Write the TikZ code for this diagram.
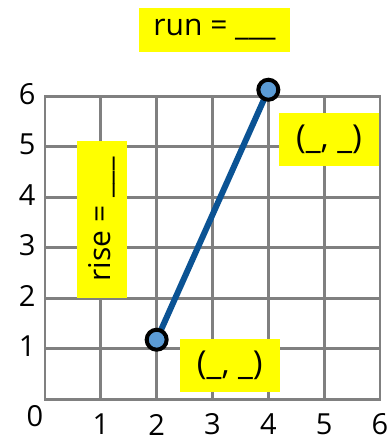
\documentclass[tikz,border=0pt]{standalone}
\usepackage{fontspec}
\setmainfont{Open Sans}
\usetikzlibrary{positioning}
\definecolor{gridgray}{HTML}{808080}
\definecolor{slopeblue}{HTML}{0B5394}
\definecolor{dotblue}{HTML}{5B9BD5}
\definecolor{notebg}{HTML}{FFFF00}
\tikzset{
  gridline/.style={draw=gridgray, line width=2.8pt},
  slopeline/.style={draw=slopeblue, line width=6pt},
  dotbadge/.style={
    circle, draw=black, fill=dotblue, line width=4pt,
    inner sep=0pt, minimum size=20pt
  },
  yellowcard/.style={
    fill=notebg, inner sep=0pt,
    font=\fontsize{30}{34}\selectfont
  },
  ticklabel/.style={inner sep=0pt, font=\fontsize{29}{33}\selectfont}
}

\begin{document}
\begin{tikzpicture}[x=55.83pt, y=50.5pt]
  \useasboundingbox (-0.806,-0.865) rectangle (6.162,7.907);
  \draw[gridline] (0,0) rectangle (6,6);
  \foreach \i in {1,...,5} {
    \draw[gridline] (\i,0) -- (\i,6);
    \draw[gridline] (0,\i) -- (6,\i);
  }
  \foreach \n in {1,...,6} {
    \node[ticklabel] (ylab\n) at (-0.32,\n+0.05) {\n};
    \node[ticklabel] (xlab\n) at (\n,-0.5) {\n};
  }
  \node[ticklabel] (zerolab) at (-0.18,-0.33) {0};
  \node[yellowcard,minimum width=151pt,minimum height=44pt] (runcard) at (3.036,7.32) {run = \_\_\_};
  \node[yellowcard,rotate=90,minimum width=157pt,minimum height=50pt] (risecard) at (1.021,3.563) {rise = \_\_\_};
  \node[yellowcard,minimum width=100pt,minimum height=53pt,font=\fontsize{33}{36}\selectfont] (highcard) at (5.087,5.15) {(\_, \_)};
  \node[yellowcard,minimum width=100pt,minimum height=53pt,font=\fontsize{33}{36}\selectfont] (lowcard) at (3.311,0.675) {(\_, \_)};
  \coordinate (lowpt) at (2,1.18);
  \coordinate (highpt) at (4,6.13);
  \draw[slopeline] (lowpt) -- (highpt);
  \node[dotbadge] (lowdot) at (lowpt) {};
  \node[dotbadge] (highdot) at (highpt) {};
\end{tikzpicture}
\end{document}
